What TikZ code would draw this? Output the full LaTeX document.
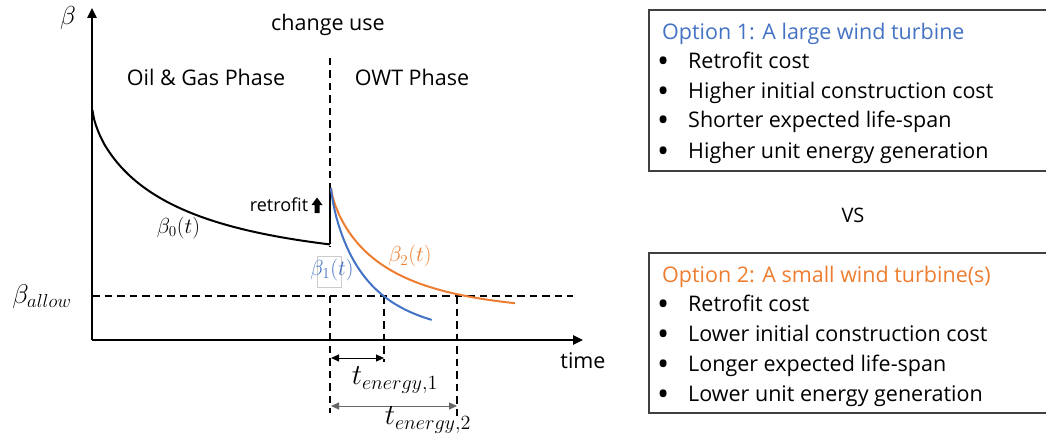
\documentclass[tikz,border=0pt]{standalone}
\usepackage{graphicx}
\usepackage{fontspec}
\setmainfont{Open Sans}
\usetikzlibrary{arrows.meta}
\definecolor{oblue}{HTML}{4472C4}
\definecolor{oorange}{HTML}{ED7D31}
\definecolor{boxline}{HTML}{404040}
\newcommand{\mathat}[2]{\scalebox{#1}{\fontsize{20}{24}\selectfont$#2$}}
\newcommand{\bigbul}{\raisebox{-4pt}{\scalebox{1.5}{•}}}
\begin{document}
\begin{tikzpicture}[x=1pt,y=-1pt,
  txt/.style={font=\fontsize{21.5}{26}\selectfont, inner sep=0pt},
  smalltxt/.style={font=\fontsize{18}{22}\selectfont, inner sep=0pt},
  line/.style={anchor=base west, font=\fontsize{21.5}{26}\selectfont, inner sep=0pt},
  mlab/.style={inner sep=0pt},
  axis/.style={line width=2.4pt, -{Triangle[length=10pt,width=9pt]}},
  dashline/.style={line width=2pt, dash pattern=on 7.5pt off 5pt},
  curve/.style={line width=2pt},
  dimarrow/.style={line width=1pt, {Triangle[length=8pt,width=7pt]}-{Triangle[length=8pt,width=7pt]}},
  optbox/.style={draw=boxline, line width=1.3pt}]
\useasboundingbox (0,0) rectangle (1046,441);

% coordinates
\coordinate (O) at (92,340);
\coordinate (ytip) at (92,8);
\coordinate (xtip) at (583,340);
\coordinate (cuTop) at (330,58);
\coordinate (cuBot) at (330,413);
\coordinate (allowL) at (92,296);
\coordinate (allowR) at (573,296);
\coordinate (c1top) at (384,296);
\coordinate (c1bot) at (384,362);
\coordinate (c2top) at (457,296);
\coordinate (c2bot) at (457,418);
\coordinate (b0start) at (92.5,110);
\coordinate (b0end) at (330,244.4);
\coordinate (rtop) at (330,188);
\coordinate (a1L) at (331,358);
\coordinate (a1R) at (384,358);
\coordinate (a2L) at (331,406);
\coordinate (a2R) at (457,406);

% axes
\draw[axis] (O) -- (ytip);
\draw[axis] (O) -- (xtip);

% dashed lines
\draw[dashline] (cuTop) -- (cuBot);
\draw[dashline] (allowL) -- (allowR);
\draw[dashline] (c1top) -- (c1bot);
\draw[dashline] (c2top) -- (c2bot);

% white text box behind beta_1 label
\fill[white] (313,247) rectangle (353,293);

% curves
\draw[curve] (b0start) -- plot[domain=92.6:330, samples=140] (\x, {110+155*(1-exp(-((\x-92.5)/87)^0.7))});
\draw[curve] (b0end) -- (rtop);
\draw[curve, oorange] (331,188) -- plot[domain=331.05:515, samples=140] (\x, {188+126*(1-exp(-((\x-331)/55.5)^0.75))});
\draw[curve, oblue] (331,188) -- plot[domain=331.05:431.7, samples=120] (\x, {188+150*(1-exp(-((\x-331)/38.6)^0.78))});

% retrofit arrow
\fill (314.5,213) -- (314.5,205) -- (311.5,205) -- (317,197.5) -- (322.5,205) -- (319.5,205) -- (319.5,213) -- cycle;
\node[smalltxt] (retro) at (279,205) {retrofit};

% dimension arrows
\draw[dimarrow] (a1L) -- (a1R);
\draw[dimarrow, draw=gray!80!black] (a2L) -- (a2R);

% text labels
\node[mlab] (beta) at (68,18) {\mathat{1.25}{\beta}};
\node[txt] (cu) at (328,25) {change use};
\node[txt] (og) at (206,77) {Oil \& Gas Phase};
\node[txt] (owt) at (412,77) {OWT Phase};
\node[txt] (time) at (583,361) {time};
\node[mlab] (ballow) at (42,297) {\mathat{1.3}{\beta_{allow}}};
\node[mlab] (b0) at (178.5,228) {\mathat{1.05}{\beta_0(t)}};
\draw[gray!40, line width=0.6pt] (317,256) rectangle (341,287);
\node[mlab, text=oblue] (b1) at (332,270) {\mathat{1.05}{\beta_1(t)}};
\node[mlab, text=oorange] (b2) at (410,256.5) {\mathat{1.05}{\beta_2(t)}};
\node[mlab] (te1) at (395,380) {\mathat{1.4}{t_{energy,1}}};
\node[mlab] (te2) at (428,420) {\mathat{1.4}{t_{energy,2}}};

% option boxes
\draw[optbox] (649,10) rectangle (1052,171);
\node[line, text=oblue] (t1) at (662,40) {Option 1: A large wind turbine};
\foreach \y/\t [count=\i] in {69/Retrofit cost, 98.5/Higher initial construction cost, 128/Shorter expected life-span, 158/Higher unit energy generation}{
  \node[line] (o1b\i) at (657,\y) {\bigbul};
  \node[line] (o1t\i) at (688,\y) {\t};
}
\node[font=\fontsize{20}{24}\selectfont, inner sep=0pt] (vs) at (853,215) {VS};
\draw[optbox] (649,253) rectangle (1052,413);
\node[line, text=oorange] (t2) at (662,282) {Option 2: A small wind turbine(s)};
\foreach \y/\t [count=\i] in {311/Retrofit cost, 341/Lower initial construction cost, 371.5/Longer expected life-span, 401.5/Lower unit energy generation}{
  \node[line] (o2b\i) at (657,\y) {\bigbul};
  \node[line] (o2t\i) at (688,\y) {\t};
}
\end{tikzpicture}
\end{document}
